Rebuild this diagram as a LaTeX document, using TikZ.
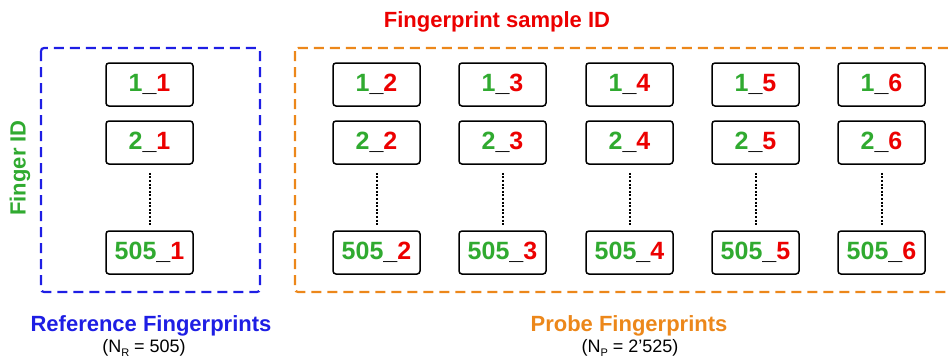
\documentclass[tikz,border=0pt]{standalone}
\usepackage{fontspec}
\setmainfont{Liberation Sans}
\definecolor{idgreen}{RGB}{48,170,48}
\definecolor{idred}{RGB}{236,0,0}
\definecolor{refblue}{RGB}{30,30,228}
\definecolor{probeorange}{RGB}{236,135,26}
\newcommand\fpid[2]{\textcolor{idgreen}{#1}\_\textcolor{idred}{#2}}
\newcommand\lowsub[1]{\raisebox{-4pt}{\fontsize{11}{11}\selectfont #1}}
\begin{document}
\begin{tikzpicture}[x=1pt,y=-1pt,
  fpbox/.style={draw=black, line width=1.5pt, rounded corners=3pt,
    minimum width=87pt, minimum height=43pt, inner sep=0pt,
    font=\fontsize{25}{25}\selectfont\bfseries},
  groupbox/.style={line width=2.2pt, dash pattern=on 10pt off 6pt, rounded corners=3pt},
  gap/.style={line width=2pt, dash pattern=on 2pt off 1.6pt,
    shorten <=8pt, shorten >=5pt},
  title/.style={font=\fontsize{22}{22}\selectfont\bfseries},
  count/.style={font=\fontsize{18}{18}\selectfont}]
\clip (0,0) rectangle (951,359);

% group frames
\draw[groupbox, refblue] (41,48) rectangle (260,292);
\draw[groupbox, probeorange] (295,48) rectangle (965,292);

% fingerprint samples: one column per sample index
\foreach \s/\x in {1/149.5, 2/376.5, 3/502.5, 4/629.5, 5/755.5, 6/881.5} {
  \node[fpbox] (s\s a) at (\x,84.5) {\fpid{1}{\s}};
  \node[fpbox] (s\s b) at (\x,142.5) {\fpid{2}{\s}};
  \node[fpbox] (s\s c) at (\x,252.5) {\fpid{505}{\s}};
  \draw[gap] (s\s b) -- (s\s c);
}

% axis captions
\node[title, idgreen, rotate=90] (fingerid) at (20,168) {Finger ID};
\node[title, idred] (sampleid) at (497,22) {Fingerprint sample ID};

% group captions
\node[title, refblue] (reftitle) at (151,326) {Reference Fingerprints};
\node[count] (refcount) at (144,348) {(N\lowsub{R} = 505)};
\node[title, probeorange] (probetitle) at (629,326) {Probe Fingerprints};
\node[count] (probecount) at (630,348) {(N\lowsub{P} = 2’525)};
\end{tikzpicture}
\end{document}
